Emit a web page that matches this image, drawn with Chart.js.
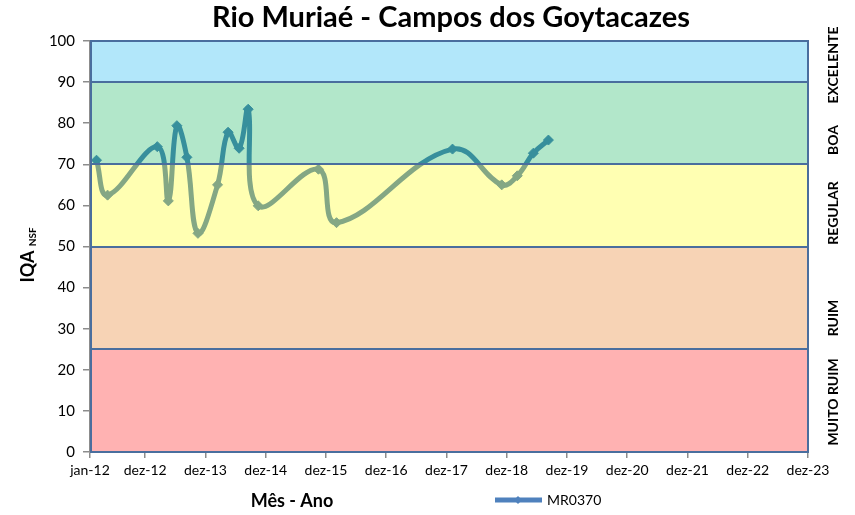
<!DOCTYPE html>
<html>
<head>
<meta charset="utf-8">
<script src="https://cdn.jsdelivr.net/npm/chart.js@4/dist/chart.umd.min.js"></script>
<style>
  html, body { margin: 0; background: #fff; }
  #wrap { width: 855px; height: 515px; }
</style>
</head>
<body>
<div id="wrap"><canvas id="myChart" width="855" height="515"></canvas></div>
<script>
// x axis: months counted from jan-12 (= 0)
const tickMonths = [0, 11, 23, 35, 47, 59, 71, 83, 95, 107, 119, 131, 143];
const tickLabels = ["jan-12", "dez-12", "dez-13", "dez-14", "dez-15", "dez-16", "dez-17",
                    "dez-18", "dez-19", "dez-20", "dez-21", "dez-22", "dez-23"];

// station MR0370 samples
const sampleMonths = [1.3, 3.5, 13.4, 15.6, 17.3, 19.3, 21.5, 25.4, 27.5, 29.7, 31.5, 33.5,
                      45.5, 49.1, 72.2, 82.0, 85.1, 88.3, 91.3];
const iqaValues = [71.0, 62.5, 74.3, 61.1, 79.4, 71.7, 53.2, 65.0, 77.8, 73.9, 83.4, 59.9,
                   68.8, 55.8, 73.7, 65.0, 67.2, 72.7, 75.9];

// quality classes
const bandLimits = [0, 25, 50, 70, 90, 100];
const bandNames = ["MUITO RUIM", "RUIM", "REGULAR", "BOA", "EXCELENTE"];
const bandColors = ["rgba(255,0,0,0.3)", "rgba(228,108,10,0.3)", "rgba(255,255,0,0.3)",
                    "rgba(0,176,80,0.3)", "rgba(0,176,240,0.3)"];

const FONT = "Lato";

// colored bands are laid over the line, like in the original sheet
const bandsPlugin = {
  id: "bands",
  afterDatasetsDraw(chart) {
    const { ctx, chartArea: a, scales: { y } } = chart;
    ctx.save();
    for (let i = 0; i < bandNames.length; i++) {
      const top = y.getPixelForValue(bandLimits[i + 1]);
      const bot = y.getPixelForValue(bandLimits[i]);
      ctx.fillStyle = bandColors[i];
      ctx.fillRect(a.left, top, a.right - a.left, bot - top);
    }
    ctx.strokeStyle = "#4a6e9e";
    ctx.lineWidth = 2;
    for (let i = 1; i < bandLimits.length - 1; i++) {
      const py = Math.round(y.getPixelForValue(bandLimits[i]));
      ctx.beginPath();
      ctx.moveTo(a.left, py);
      ctx.lineTo(a.right, py);
      ctx.stroke();
    }
    ctx.strokeRect(a.left + 1, a.top, a.right - a.left - 1, a.bottom - a.top);
    ctx.restore();
  }
};

// titles, class names and legend
const textPlugin = {
  id: "texts",
  afterDraw(chart) {
    const { ctx } = chart;
    ctx.save();
    ctx.fillStyle = "#000";
    ctx.textBaseline = "middle";

    ctx.textAlign = "center";
    ctx.font = "bold 29px " + FONT;
    ctx.fillText("Rio Muriaé - Campos dos Goytacazes", 451, 18);

    ctx.font = "bold 18px " + FONT;
    ctx.fillText("Mês - Ano", 292, 501);

    // y title with subscript
    ctx.save();
    ctx.translate(28, 255);
    ctx.rotate(-Math.PI / 2);
    ctx.textAlign = "left";
    ctx.font = "bold 18px " + FONT;
    const w1 = ctx.measureText("IQA ").width;
    ctx.font = "bold 10px " + FONT;
    const w2 = ctx.measureText("NSF").width;
    ctx.font = "bold 18px " + FONT;
    ctx.fillText("IQA ", -(w1 + w2) / 2, 0);
    ctx.font = "bold 10px " + FONT;
    ctx.fillText("NSF", -(w1 + w2) / 2 + w1, 5);
    ctx.restore();

    // class names on the right
    const labelY = [402, 318, 213, 140, 65];
    ctx.font = "bold 14px " + FONT;
    bandNames.forEach((name, i) => {
      ctx.save();
      ctx.translate(833, labelY[i]);
      ctx.rotate(-Math.PI / 2);
      ctx.textAlign = "center";
      ctx.fillText(name, 0, 0);
      ctx.restore();
    });

    // legend
    const ds = chart.data.datasets[0];
    ctx.strokeStyle = ds.borderColor;
    ctx.lineWidth = 5;
    ctx.beginPath();
    ctx.moveTo(495, 500);
    ctx.lineTo(542, 500);
    ctx.stroke();
    ctx.fillStyle = ds.borderColor;
    ctx.beginPath();
    ctx.moveTo(518, 496); ctx.lineTo(522, 500); ctx.lineTo(518, 504); ctx.lineTo(514, 500);
    ctx.closePath();
    ctx.fill();
    ctx.fillStyle = "#000";
    ctx.textAlign = "left";
    ctx.font = "14px " + FONT;
    ctx.fillText(ds.label, 547, 500);
    ctx.restore();
  }
};

new Chart(document.getElementById("myChart").getContext("2d"), {
  type: "line",
  data: {
    datasets: [{
      label: "MR0370",
      data: sampleMonths.map((m, i) => ({ x: m, y: iqaValues[i] })),
      borderColor: "#4F81BD",
      backgroundColor: "#4F81BD",
      borderWidth: 5,
      tension: 0.4,
      pointStyle: "rectRot",
      pointRadius: 5,
      pointBackgroundColor: "#4F81BD",
      pointBorderColor: "#4F81BD",
      pointBorderWidth: 1
    }]
  },
  options: {
    responsive: false,
    animation: false,
    layout: { padding: { top: 41, right: 47, left: 0, bottom: 0 } },
    plugins: {
      legend: { display: false },
      tooltip: { enabled: false }
    },
    scales: {
      x: {
        type: "linear",
        min: 0,
        max: 143,
        afterBuildTicks: s => { s.ticks = tickMonths.map(v => ({ value: v })); },
        afterFit: s => { s.height = 63; },
        ticks: {
          callback: (v, i) => tickLabels[i],
          autoSkip: false,
          maxRotation: 0,
          padding: 4,
          color: "#000",
          font: { family: FONT, size: 14 }
        },
        grid: { drawOnChartArea: false, tickLength: 6, color: "#8c8c8c", lineWidth: 1.5 },
        border: { color: "#8c8c8c", width: 1.5 }
      },
      y: {
        min: 0,
        max: 100,
        afterFit: s => { s.width = 90; },
        ticks: {
          stepSize: 10,
          padding: 8,
          color: "#000",
          font: { family: FONT, size: 15 }
        },
        grid: { drawOnChartArea: false, tickLength: 7, color: "#8c8c8c", lineWidth: 1.5 },
        border: { color: "#8c8c8c", width: 1.5 }
      }
    }
  },
  plugins: [bandsPlugin, textPlugin]
});
</script>
</body>
</html>
